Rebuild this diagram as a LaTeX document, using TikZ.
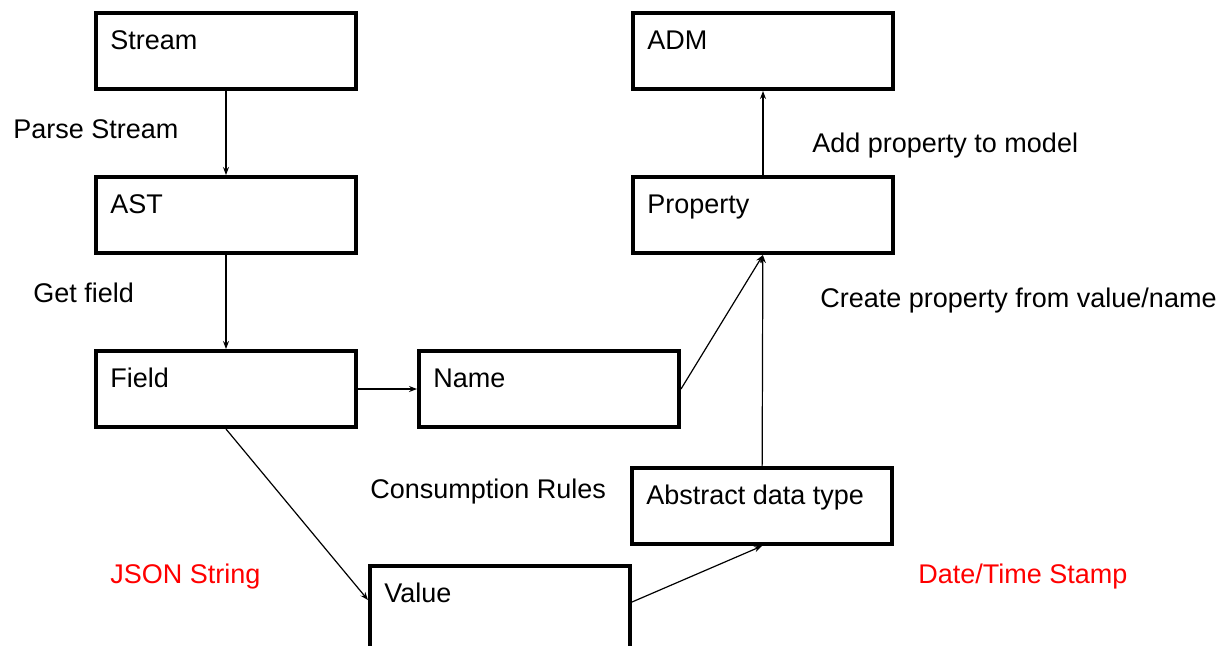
\documentclass[tikz,border=0pt]{standalone}
\usepackage{fontspec}
\setmainfont{Liberation Sans}
\definecolor{myred}{RGB}{255,0,0}
\usetikzlibrary{arrows.meta,positioning}

\begin{document}
\begin{tikzpicture}[x=0.5pt,y=-0.5pt,
    every node/.style={font=\fontsize{13.5pt}{16pt}\selectfont},
    box/.style={draw,line width=2pt,minimum width=130pt,minimum height=38pt,inner sep=0pt,
      label={[anchor=base west,inner sep=0pt,xshift=8pt,yshift=-19pt]north west:#1}},
    note/.style={anchor=base west,inner sep=0pt},
    flow/.style={-{Stealth[length=4pt,width=3pt]},line width=0.6pt}
    ]
    \useasboundingbox (0,0) rectangle (1227,645);

    % the left column
    \node[box=Stream] (stream) at (226,51) {};
    \node[box=AST] (ast) at (226,215) {};
    \node[box=Field] (field) at (226,389) {};

    % the middle (value runs off the bottom)
    \node[box=Name] (name) at (549,389) {};
    \node[box=Value,minimum height=44pt] (value) at (500,610) {};

    % the right column
    \node[box=ADM] (adm) at (763,51) {};
    \node[box=Property] (property) at (763,215) {};
    \node[box=Abstract data type] (adt) at (762,506) {};

    % the steps
    \node[note] (parse) at (13,138) {Parse Stream};
    \node[note] (getfield) at (33,302) {Get field};
    \node[note] (addprop) at (812,152) {Add property to model};
    \node[note] (createprop) at (820,307) {Create property from value/name};
    \node[note] (rules) at (370,498) {Consumption Rules};
    \node[note,myred] (json) at (110,583) {JSON String};
    \node[note,myred] (stamp) at (918,583) {Date/Time Stamp};

    % the arrows
    \draw[flow] (stream) -- (ast);
    \draw[flow] (ast) -- (field);
    \draw[flow] (field) -- (name);
    \draw[flow] (field.south) -- ([yshift=5pt]value.west);
    \draw[flow] ([yshift=4pt]value.east) -- (adt.south);
    \draw[flow] (name.east) -- (property.south);
    \draw[flow] (adt) -- (property);
    \draw[flow] (property) -- (adm);
\end{tikzpicture}
\end{document}
